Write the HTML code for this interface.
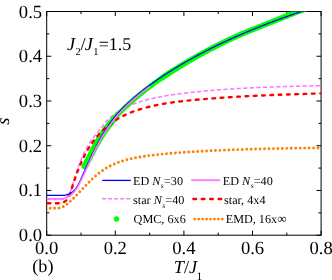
<!DOCTYPE html>
<html><head><meta charset="utf-8"><title>chart</title>
<style>
html,body{margin:0;padding:0;background:#fff;}
body{width:332px;height:280px;overflow:hidden;}
svg{display:block;}
text{font-family:"Liberation Serif",serif;fill:#000;text-rendering:geometricPrecision;}
.tl{font-size:18.6px;}
.lg text{font-size:12.2px;}
.i{font-style:italic;}
.gt{filter:grayscale(1);}
</style></head><body>
<svg width="332" height="280" viewBox="0 0 332 280">
<rect width="332" height="280" fill="#fff"/>
<defs><clipPath id="cp"><rect x="46.7" y="11.5" width="274.40000000000003" height="223.7"/></clipPath></defs>
<g stroke="#000" stroke-width="1" fill="none">
<rect x="46.7" y="11.5" width="274.40000000000003" height="223.7"/>
<line x1="46.70" y1="235.2" x2="46.70" y2="230.6"/><line x1="46.70" y1="11.5" x2="46.70" y2="16.1"/><line x1="81.00" y1="235.2" x2="81.00" y2="232.6"/><line x1="81.00" y1="11.5" x2="81.00" y2="14.1"/><line x1="115.30" y1="235.2" x2="115.30" y2="230.6"/><line x1="115.30" y1="11.5" x2="115.30" y2="16.1"/><line x1="149.60" y1="235.2" x2="149.60" y2="232.6"/><line x1="149.60" y1="11.5" x2="149.60" y2="14.1"/><line x1="183.90" y1="235.2" x2="183.90" y2="230.6"/><line x1="183.90" y1="11.5" x2="183.90" y2="16.1"/><line x1="218.20" y1="235.2" x2="218.20" y2="232.6"/><line x1="218.20" y1="11.5" x2="218.20" y2="14.1"/><line x1="252.50" y1="235.2" x2="252.50" y2="230.6"/><line x1="252.50" y1="11.5" x2="252.50" y2="16.1"/><line x1="286.80" y1="235.2" x2="286.80" y2="232.6"/><line x1="286.80" y1="11.5" x2="286.80" y2="14.1"/><line x1="321.10" y1="235.2" x2="321.10" y2="230.6"/><line x1="321.10" y1="11.5" x2="321.10" y2="16.1"/><line x1="46.7" y1="235.20" x2="51.300000000000004" y2="235.20"/><line x1="321.1" y1="235.20" x2="316.5" y2="235.20"/><line x1="46.7" y1="212.83" x2="49.300000000000004" y2="212.83"/><line x1="321.1" y1="212.83" x2="318.5" y2="212.83"/><line x1="46.7" y1="190.46" x2="51.300000000000004" y2="190.46"/><line x1="321.1" y1="190.46" x2="316.5" y2="190.46"/><line x1="46.7" y1="168.09" x2="49.300000000000004" y2="168.09"/><line x1="321.1" y1="168.09" x2="318.5" y2="168.09"/><line x1="46.7" y1="145.72" x2="51.300000000000004" y2="145.72"/><line x1="321.1" y1="145.72" x2="316.5" y2="145.72"/><line x1="46.7" y1="123.35" x2="49.300000000000004" y2="123.35"/><line x1="321.1" y1="123.35" x2="318.5" y2="123.35"/><line x1="46.7" y1="100.98" x2="51.300000000000004" y2="100.98"/><line x1="321.1" y1="100.98" x2="316.5" y2="100.98"/><line x1="46.7" y1="78.61" x2="49.300000000000004" y2="78.61"/><line x1="321.1" y1="78.61" x2="318.5" y2="78.61"/><line x1="46.7" y1="56.24" x2="51.300000000000004" y2="56.24"/><line x1="321.1" y1="56.24" x2="316.5" y2="56.24"/><line x1="46.7" y1="33.87" x2="49.300000000000004" y2="33.87"/><line x1="321.1" y1="33.87" x2="318.5" y2="33.87"/><line x1="46.7" y1="11.50" x2="51.300000000000004" y2="11.50"/><line x1="321.1" y1="11.50" x2="316.5" y2="11.50"/>
</g>
<g clip-path="url(#cp)" fill="none" stroke-linejoin="round">
<path d="M46.63,208.08C46.99,208.12 48.08,208.26 48.80,208.30C49.53,208.34 50.25,208.30 50.97,208.30C51.69,208.30 52.42,208.30 53.13,208.30C53.84,208.30 54.55,208.30 55.25,208.30C55.94,208.30 56.64,208.35 57.32,208.30C58.00,208.25 58.67,208.13 59.33,207.97C59.98,207.82 60.63,207.62 61.26,207.39C61.90,207.16 62.52,206.90 63.12,206.61C63.73,206.32 64.31,205.99 64.89,205.64C65.46,205.29 66.02,204.91 66.57,204.50C67.13,204.10 67.66,203.67 68.19,203.23C68.72,202.79 69.24,202.33 69.75,201.86C70.27,201.39 70.77,200.90 71.27,200.41C71.78,199.92 72.27,199.43 72.77,198.93C73.26,198.44 73.75,197.94 74.24,197.44C74.73,196.94 75.22,196.45 75.71,195.95C76.19,195.45 76.68,194.95 77.17,194.44C77.65,193.94 78.14,193.43 78.62,192.92C79.11,192.41 79.60,191.89 80.08,191.38C80.57,190.87 81.06,190.35 81.54,189.84C82.03,189.32 82.52,188.81 83.01,188.29C83.50,187.78 83.99,187.26 84.48,186.75C84.97,186.23 85.47,185.72 85.96,185.21C86.46,184.70 86.95,184.19 87.45,183.68C87.95,183.17 88.45,182.67 88.96,182.16C89.46,181.66 89.97,181.16 90.47,180.67C90.98,180.17 91.49,179.68 92.01,179.19C92.52,178.71 93.04,178.22 93.56,177.75C94.08,177.27 94.61,176.80 95.13,176.33C95.66,175.87 96.19,175.41 96.73,174.95C97.26,174.50 97.80,174.05 98.35,173.62C98.89,173.18 99.44,172.75 99.99,172.32C100.54,171.90 101.10,171.48 101.66,171.08C102.23,170.67 102.79,170.28 103.37,169.89C103.94,169.50 104.52,169.12 105.10,168.76C105.68,168.39 106.27,168.03 106.87,167.69C107.46,167.34 108.06,167.00 108.67,166.68C109.27,166.35 109.88,166.03 110.50,165.72C111.11,165.41 111.74,165.12 112.36,164.83C112.98,164.54 113.61,164.26 114.25,163.98C114.88,163.71 115.52,163.45 116.16,163.19C116.80,162.93 117.45,162.69 118.10,162.45C118.75,162.21 119.40,161.98 120.06,161.75C120.72,161.53 121.38,161.31 122.04,161.10C122.70,160.89 123.37,160.69 124.04,160.49C124.71,160.29 125.38,160.10 126.06,159.92C126.73,159.73 127.41,159.56 128.09,159.39C128.77,159.21 129.46,159.05 130.14,158.89C130.83,158.73 131.52,158.57 132.20,158.42C132.89,158.27 133.59,158.13 134.28,157.99C134.97,157.85 135.67,157.72 136.36,157.59C137.06,157.45 137.75,157.33 138.45,157.21C139.15,157.08 139.85,156.97 140.55,156.85C141.25,156.74 141.95,156.63 142.65,156.52C143.35,156.41 144.06,156.31 144.76,156.20C145.46,156.10 146.16,156.00 146.86,155.91C147.57,155.81 148.27,155.72 148.97,155.63C149.67,155.54 150.38,155.45 151.08,155.36C151.78,155.27 152.48,155.19 153.18,155.10C153.88,155.02 154.58,154.94 155.28,154.85C155.98,154.77 156.68,154.70 157.38,154.62C158.08,154.54 158.78,154.47 159.48,154.39C160.18,154.32 160.87,154.25 161.57,154.18C162.27,154.11 162.97,154.04 163.67,153.97C164.36,153.90 165.06,153.83 165.76,153.77C166.46,153.70 167.15,153.64 167.85,153.58C168.55,153.52 169.24,153.46 169.94,153.40C170.64,153.34 171.33,153.28 172.03,153.22C172.73,153.16 173.42,153.11 174.12,153.05C174.82,152.99 175.51,152.94 176.21,152.89C176.90,152.83 177.60,152.78 178.30,152.73C178.99,152.68 179.69,152.63 180.38,152.58C181.08,152.53 181.78,152.48 182.47,152.43C183.17,152.38 183.87,152.34 184.56,152.29C185.26,152.24 185.95,152.20 186.65,152.15C187.35,152.11 188.04,152.06 188.74,152.02C189.44,151.97 190.13,151.93 190.83,151.88C191.53,151.84 192.22,151.80 192.92,151.76C193.62,151.71 194.32,151.67 195.01,151.63C195.71,151.59 196.41,151.55 197.11,151.51C197.80,151.47 198.50,151.43 199.20,151.39C199.90,151.35 200.60,151.31 201.29,151.27C201.99,151.23 202.69,151.19 203.39,151.15C204.09,151.12 204.79,151.08 205.49,151.04C206.18,151.00 206.88,150.97 207.58,150.93C208.28,150.89 208.98,150.86 209.68,150.82C210.38,150.79 211.08,150.75 211.78,150.72C212.48,150.68 213.18,150.65 213.88,150.62C214.57,150.58 215.27,150.55 215.97,150.52C216.67,150.48 217.37,150.45 218.07,150.42C218.77,150.39 219.47,150.36 220.17,150.32C220.87,150.29 221.57,150.26 222.27,150.23C222.97,150.20 223.67,150.17 224.38,150.14C225.08,150.11 225.78,150.08 226.48,150.05C227.18,150.02 227.88,149.99 228.58,149.97C229.28,149.94 229.98,149.91 230.68,149.88C231.38,149.86 232.08,149.83 232.78,149.80C233.48,149.77 234.19,149.75 234.89,149.72C235.59,149.70 236.29,149.67 236.99,149.64C237.69,149.62 238.39,149.59 239.09,149.57C239.79,149.54 240.50,149.52 241.20,149.50C241.90,149.47 242.60,149.45 243.30,149.43C244.00,149.40 244.70,149.38 245.41,149.36C246.11,149.33 246.81,149.31 247.51,149.29C248.21,149.27 248.91,149.25 249.61,149.22C250.32,149.20 251.02,149.18 251.72,149.16C252.42,149.14 253.12,149.12 253.82,149.10C254.53,149.08 255.23,149.06 255.93,149.04C256.63,149.02 257.33,149.00 258.03,148.98C258.74,148.96 259.44,148.94 260.14,148.93C260.84,148.91 261.54,148.89 262.24,148.87C262.95,148.85 263.65,148.84 264.35,148.82C265.05,148.80 265.75,148.78 266.45,148.77C267.16,148.75 267.86,148.73 268.56,148.72C269.26,148.70 269.96,148.69 270.66,148.67C271.36,148.65 272.07,148.64 272.77,148.62C273.47,148.61 274.17,148.59 274.87,148.58C275.57,148.56 276.28,148.55 276.98,148.54C277.68,148.52 278.38,148.51 279.08,148.49C279.78,148.48 280.48,148.47 281.18,148.45C281.89,148.44 282.59,148.43 283.29,148.41C283.99,148.40 284.69,148.39 285.39,148.38C286.09,148.36 286.79,148.35 287.49,148.34C288.19,148.33 288.90,148.32 289.60,148.31C290.30,148.29 291.00,148.28 291.70,148.27C292.40,148.26 293.10,148.25 293.80,148.24C294.50,148.23 295.20,148.22 295.90,148.21C296.60,148.20 297.30,148.19 298.00,148.18C298.70,148.17 299.40,148.16 300.10,148.15C300.80,148.14 301.50,148.13 302.20,148.12C302.90,148.11 303.60,148.10 304.30,148.09C305.00,148.09 305.70,148.08 306.40,148.07C307.10,148.06 307.80,148.05 308.50,148.04C309.20,148.03 309.90,148.03 310.60,148.02C311.30,148.01 311.99,148.00 312.69,148.00C313.39,147.99 314.09,147.98 314.79,147.97C315.49,147.97 316.19,147.96 316.89,147.95C317.58,147.95 318.28,147.94 318.98,147.93C319.68,147.93 320.73,147.92 321.07,147.91" stroke="#ff8000" stroke-width="2.9" stroke-dasharray="0.01 4.45" stroke-dashoffset="-3.5" stroke-linecap="round"/>
<path d="M46.67,199.38C47.05,199.38 48.15,199.40 48.93,199.42C49.71,199.44 50.52,199.49 51.34,199.50C52.16,199.51 53.00,199.50 53.84,199.50C54.67,199.50 55.52,199.50 56.35,199.50C57.19,199.50 58.02,199.50 58.83,199.50C59.63,199.50 60.43,199.57 61.19,199.50C61.95,199.43 62.69,199.32 63.38,199.11C64.07,198.90 64.73,198.60 65.33,198.24C65.93,197.88 66.47,197.45 66.98,196.96C67.48,196.47 67.93,195.90 68.35,195.29C68.77,194.69 69.14,194.02 69.50,193.34C69.85,192.65 70.17,191.91 70.47,191.17C70.78,190.43 71.06,189.66 71.33,188.89C71.61,188.12 71.86,187.34 72.12,186.57C72.38,185.80 72.63,185.03 72.87,184.26C73.12,183.49 73.36,182.72 73.59,181.95C73.83,181.19 74.07,180.42 74.30,179.66C74.53,178.89 74.76,178.13 75.00,177.37C75.23,176.61 75.46,175.85 75.69,175.09C75.93,174.33 76.16,173.57 76.40,172.82C76.64,172.06 76.88,171.30 77.13,170.55C77.38,169.80 77.63,169.05 77.88,168.30C78.14,167.55 78.40,166.80 78.66,166.06C78.93,165.31 79.20,164.57 79.47,163.83C79.75,163.09 80.03,162.35 80.32,161.62C80.60,160.88 80.90,160.15 81.20,159.42C81.49,158.69 81.80,157.97 82.11,157.25C82.42,156.52 82.74,155.81 83.07,155.09C83.39,154.38 83.73,153.66 84.07,152.96C84.41,152.25 84.76,151.55 85.11,150.85C85.47,150.15 85.83,149.45 86.20,148.77C86.57,148.08 86.95,147.39 87.34,146.71C87.73,146.03 88.13,145.35 88.54,144.68C88.95,144.01 89.36,143.35 89.79,142.69C90.21,142.03 90.65,141.37 91.09,140.73C91.54,140.08 91.99,139.44 92.46,138.80C92.92,138.16 93.40,137.53 93.89,136.91C94.37,136.28 94.87,135.66 95.37,135.05C95.87,134.43 96.37,133.82 96.88,133.20C97.39,132.59 97.90,131.98 98.40,131.36C98.91,130.75 99.42,130.14 99.92,129.52C100.42,128.90 100.91,128.27 101.40,127.65C101.89,127.02 102.38,126.39 102.87,125.77C103.36,125.15 103.84,124.52 104.34,123.91C104.84,123.30 105.34,122.69 105.86,122.09C106.37,121.50 106.90,120.91 107.44,120.34C107.98,119.76 108.53,119.20 109.09,118.66C109.65,118.11 110.22,117.57 110.81,117.05C111.39,116.52 111.99,116.01 112.59,115.51C113.20,115.02 113.81,114.53 114.43,114.06C115.06,113.58 115.69,113.12 116.34,112.68C116.98,112.23 117.63,111.79 118.29,111.37C118.95,110.95 119.62,110.54 120.30,110.14C120.97,109.75 121.66,109.36 122.35,108.98C123.04,108.61 123.74,108.25 124.44,107.89C125.15,107.54 125.86,107.20 126.57,106.86C127.29,106.53 128.01,106.21 128.74,105.89C129.46,105.58 130.20,105.28 130.93,104.98C131.67,104.68 132.41,104.40 133.15,104.12C133.89,103.84 134.64,103.57 135.39,103.30C136.14,103.04 136.89,102.78 137.65,102.53C138.40,102.28 139.16,102.04 139.91,101.81C140.67,101.57 141.43,101.34 142.19,101.11C142.95,100.89 143.71,100.67 144.47,100.46C145.24,100.24 146.00,100.04 146.76,99.83C147.53,99.63 148.29,99.43 149.06,99.24C149.83,99.05 150.59,98.86 151.36,98.68C152.13,98.50 152.90,98.32 153.67,98.15C154.44,97.97 155.21,97.81 155.98,97.64C156.75,97.48 157.52,97.32 158.29,97.16C159.07,97.01 159.84,96.85 160.61,96.71C161.39,96.56 162.16,96.42 162.94,96.27C163.71,96.13 164.49,96.00 165.27,95.86C166.04,95.73 166.82,95.60 167.60,95.47C168.37,95.35 169.15,95.22 169.93,95.10C170.71,94.98 171.49,94.87 172.27,94.75C173.05,94.64 173.83,94.52 174.61,94.41C175.39,94.30 176.17,94.20 176.95,94.09C177.73,93.98 178.52,93.88 179.30,93.78C180.08,93.68 180.86,93.58 181.64,93.48C182.43,93.38 183.21,93.29 183.99,93.19C184.78,93.10 185.56,93.01 186.34,92.92C187.13,92.82 187.91,92.73 188.69,92.65C189.48,92.56 190.26,92.47 191.04,92.38C191.83,92.30 192.61,92.21 193.40,92.13C194.18,92.04 194.97,91.96 195.75,91.88C196.53,91.80 197.32,91.72 198.10,91.64C198.89,91.56 199.67,91.48 200.46,91.41C201.25,91.33 202.03,91.25 202.82,91.18C203.60,91.11 204.39,91.03 205.17,90.96C205.96,90.89 206.74,90.82 207.53,90.75C208.32,90.68 209.10,90.61 209.89,90.54C210.68,90.47 211.46,90.41 212.25,90.34C213.04,90.28 213.82,90.21 214.61,90.15C215.40,90.09 216.18,90.02 216.97,89.96C217.76,89.90 218.54,89.84 219.33,89.78C220.12,89.72 220.91,89.66 221.69,89.61C222.48,89.55 223.27,89.49 224.06,89.44C224.84,89.38 225.63,89.33 226.42,89.27C227.21,89.22 228.00,89.17 228.78,89.12C229.57,89.06 230.36,89.01 231.15,88.96C231.94,88.91 232.72,88.86 233.51,88.81C234.30,88.77 235.09,88.72 235.88,88.67C236.67,88.62 237.46,88.58 238.24,88.53C239.03,88.49 239.82,88.44 240.61,88.40C241.40,88.36 242.19,88.31 242.98,88.27C243.77,88.23 244.55,88.19 245.34,88.15C246.13,88.11 246.92,88.07 247.71,88.03C248.50,87.99 249.29,87.95 250.08,87.91C250.87,87.87 251.66,87.84 252.45,87.80C253.23,87.76 254.02,87.73 254.81,87.69C255.60,87.66 256.39,87.62 257.18,87.59C257.97,87.55 258.76,87.52 259.55,87.49C260.34,87.45 261.13,87.42 261.92,87.39C262.71,87.36 263.50,87.33 264.29,87.30C265.08,87.26 265.87,87.23 266.66,87.20C267.44,87.17 268.23,87.14 269.02,87.12C269.81,87.09 270.60,87.06 271.39,87.03C272.18,87.00 272.97,86.98 273.76,86.95C274.55,86.92 275.34,86.89 276.13,86.87C276.92,86.84 277.71,86.82 278.50,86.79C279.29,86.76 280.08,86.74 280.87,86.71C281.66,86.69 282.44,86.67 283.23,86.64C284.02,86.62 284.81,86.59 285.60,86.57C286.39,86.55 287.18,86.52 287.97,86.50C288.76,86.48 289.55,86.45 290.34,86.43C291.13,86.41 291.92,86.39 292.71,86.37C293.49,86.34 294.28,86.32 295.07,86.30C295.86,86.28 296.65,86.26 297.44,86.24C298.23,86.22 299.02,86.19 299.81,86.17C300.59,86.15 301.38,86.13 302.17,86.11C302.96,86.09 303.75,86.07 304.54,86.05C305.33,86.03 306.11,86.01 306.90,85.99C307.69,85.97 308.48,85.95 309.27,85.93C310.05,85.91 310.84,85.89 311.63,85.87C312.42,85.85 313.21,85.83 313.99,85.81C314.78,85.79 315.57,85.77 316.36,85.75C317.14,85.73 317.93,85.71 318.72,85.69C319.51,85.67 320.69,85.64 321.08,85.63" stroke="#ff74ff" stroke-width="1.5" stroke-dasharray="4.3 2.3"/>
<path d="M84.35,166.26C84.54,165.92 85.10,164.89 85.47,164.20C85.84,163.50 86.21,162.81 86.58,162.11C86.95,161.41 87.32,160.71 87.68,160.01C88.05,159.31 88.42,158.60 88.78,157.90C89.15,157.19 89.51,156.48 89.88,155.78C90.24,155.07 90.61,154.36 90.97,153.65C91.34,152.94 91.71,152.23 92.08,151.53C92.45,150.82 92.82,150.11 93.19,149.40C93.56,148.70 93.94,147.99 94.32,147.29C94.69,146.58 95.07,145.88 95.46,145.18C95.84,144.48 96.23,143.78 96.62,143.08C97.01,142.38 97.41,141.69 97.81,141.00C98.21,140.31 98.61,139.62 99.02,138.94C99.43,138.25 99.85,137.57 100.27,136.90C100.69,136.22 101.12,135.55 101.55,134.88C101.98,134.22 102.42,133.56 102.87,132.90C103.31,132.24 103.77,131.59 104.22,130.94C104.68,130.30 105.15,129.65 105.62,129.02C106.09,128.38 106.56,127.74 107.05,127.12C107.53,126.49 108.01,125.86 108.51,125.24C109.00,124.62 109.50,124.01 110.00,123.40C110.50,122.78 111.01,122.18 111.53,121.57C112.04,120.97 112.56,120.37 113.08,119.78C113.60,119.18 114.13,118.59 114.66,118.00C115.19,117.42 116.00,116.54 116.27,116.25" stroke="#00ff00" stroke-width="5.8" stroke-linecap="round"/>
<path d="M111.53,121.57C111.78,121.27 112.56,120.37 113.08,119.78C113.60,119.18 114.13,118.59 114.66,118.00C115.19,117.42 115.73,116.83 116.27,116.25C116.81,115.67 117.35,115.09 117.90,114.52C118.45,113.95 119.00,113.38 119.55,112.81C120.11,112.25 120.67,111.68 121.23,111.12C121.79,110.56 122.36,110.01 122.93,109.45C123.49,108.90 124.07,108.35 124.64,107.80C125.21,107.25 125.79,106.71 126.37,106.17C126.95,105.63 127.53,105.09 128.12,104.55C128.70,104.02 129.29,103.48 129.88,102.95C130.47,102.42 131.06,101.89 131.66,101.37C132.25,100.84 132.85,100.32 133.45,99.80C134.05,99.28 134.65,98.76 135.26,98.25C135.86,97.73 136.47,97.22 137.08,96.71C137.69,96.20 138.30,95.70 138.91,95.19C139.52,94.69 140.14,94.19 140.76,93.69C141.38,93.19 142.00,92.69 142.62,92.20C143.24,91.70 143.86,91.21 144.49,90.72C145.12,90.23 145.75,89.74 146.38,89.26C147.01,88.77 147.64,88.29 148.27,87.81C148.91,87.33 149.54,86.85 150.18,86.38C150.82,85.90 151.46,85.43 152.10,84.96C152.74,84.49 153.38,84.02 154.03,83.55C154.67,83.09 155.32,82.62 155.97,82.16C156.62,81.70 157.27,81.24 157.92,80.78C158.57,80.32 159.22,79.87 159.88,79.41C160.53,78.96 161.19,78.51 161.84,78.06C162.50,77.61 163.16,77.16 163.82,76.71C164.48,76.27 165.14,75.83 165.80,75.38C166.47,74.94 167.13,74.50 167.80,74.06C168.46,73.63 169.13,73.19 169.80,72.76C170.46,72.32 171.47,71.68 171.80,71.46" stroke="#00ff00" stroke-width="5.0" stroke-linecap="round"/>
<path d="M161.84,78.06C162.17,77.83 163.16,77.16 163.82,76.71C164.48,76.27 165.14,75.83 165.80,75.38C166.47,74.94 167.13,74.50 167.80,74.06C168.46,73.63 169.13,73.19 169.80,72.76C170.46,72.32 171.13,71.89 171.80,71.46C172.47,71.03 173.14,70.60 173.82,70.17C174.49,69.75 175.16,69.32 175.84,68.90C176.51,68.48 177.19,68.05 177.86,67.63C178.54,67.21 179.22,66.80 179.89,66.38C180.57,65.96 181.25,65.55 181.93,65.13C182.61,64.72 183.29,64.31 183.97,63.90C184.65,63.49 185.34,63.08 186.02,62.67C186.70,62.27 187.39,61.86 188.07,61.46C188.75,61.06 189.44,60.65 190.13,60.25C190.81,59.85 191.50,59.46 192.19,59.06C192.88,58.66 193.56,58.27 194.25,57.87C194.94,57.48 195.63,57.09 196.33,56.70C197.02,56.31 197.71,55.92 198.40,55.53C199.10,55.14 199.79,54.76 200.48,54.38C201.18,53.99 201.87,53.61 202.57,53.23C203.27,52.85 203.97,52.47 204.66,52.10C205.36,51.72 206.06,51.34 206.76,50.97C207.46,50.60 208.16,50.23 208.86,49.86C209.57,49.49 210.27,49.12 210.97,48.75C211.67,48.39 212.38,48.02 213.08,47.66C213.79,47.29 214.50,46.93 215.20,46.57C215.91,46.21 216.62,45.86 217.33,45.50C218.04,45.15 218.75,44.79 219.46,44.44C220.17,44.09 220.88,43.74 221.59,43.39C222.30,43.04 223.02,42.69 223.73,42.35C224.45,42.00 225.16,41.66 225.88,41.31C226.59,40.97 227.31,40.63 228.03,40.29C228.75,39.96 229.46,39.62 230.18,39.29C230.90,38.95 231.62,38.62 232.35,38.29C233.07,37.96 233.79,37.63 234.51,37.30C235.24,36.97 235.96,36.65 236.69,36.32C237.41,36.00 238.14,35.68 238.87,35.36C239.59,35.04 240.32,34.72 241.05,34.40C241.78,34.09 242.51,33.77 243.24,33.46C243.97,33.14 244.70,32.83 245.44,32.52C246.17,32.22 246.90,31.91 247.64,31.60C248.37,31.30 249.11,30.99 249.84,30.69C250.58,30.39 251.32,30.09 252.05,29.78C252.79,29.48 253.53,29.19 254.27,28.89C255.00,28.59 255.74,28.29 256.48,28.00C257.22,27.70 257.96,27.41 258.70,27.11C259.44,26.82 260.18,26.52 260.92,26.23C261.66,25.94 262.40,25.64 263.14,25.35C263.88,25.06 264.62,24.77 265.37,24.47C266.11,24.18 266.85,23.89 267.59,23.60C268.33,23.30 269.07,23.01 269.81,22.72C270.55,22.43 271.29,22.13 272.03,21.84C272.77,21.55 273.51,21.25 274.24,20.96C274.98,20.67 275.72,20.37 276.46,20.07C277.20,19.78 277.93,19.48 278.67,19.19C279.41,18.89 280.14,18.59 280.88,18.29C281.61,17.99 282.35,17.69 283.08,17.40C283.82,17.10 284.55,16.80 285.29,16.50C286.02,16.20 286.76,15.91 287.50,15.61C288.23,15.32 288.97,15.02 289.70,14.73C290.44,14.44 291.18,14.15 291.92,13.86C292.66,13.57 293.40,13.28 294.14,13.00C294.88,12.72 295.62,12.44 296.36,12.16C297.11,11.88 297.85,11.61 298.60,11.34C299.34,11.07 300.09,10.80 300.84,10.54C301.59,10.27 302.34,10.02 303.09,9.76C303.85,9.51 304.60,9.26 305.36,9.02C306.12,8.77 306.88,8.53 307.64,8.30C308.41,8.07 309.56,7.73 309.94,7.62" stroke="#00ff00" stroke-width="5.6" stroke-linecap="round"/>
<path d="M85.25,166.26C85.44,165.92 86.00,164.89 86.37,164.20C86.74,163.50 87.11,162.81 87.48,162.11C87.85,161.41 88.22,160.71 88.58,160.01C88.95,159.31 89.32,158.60 89.68,157.90C90.05,157.19 90.41,156.48 90.78,155.78C91.14,155.07 91.51,154.36 91.87,153.65C92.24,152.94 92.61,152.23 92.98,151.53C93.35,150.82 93.72,150.11 94.09,149.40C94.46,148.70 94.84,147.99 95.22,147.29C95.59,146.58 95.97,145.88 96.36,145.18C96.74,144.48 97.13,143.78 97.52,143.08C97.91,142.38 98.31,141.69 98.71,141.00C99.11,140.31 99.51,139.62 99.92,138.94C100.33,138.25 100.75,137.57 101.17,136.90C101.59,136.22 102.02,135.55 102.45,134.88C102.88,134.22 103.32,133.56 103.77,132.90C104.21,132.24 104.67,131.59 105.12,130.94C105.58,130.30 106.05,129.65 106.52,129.02C106.99,128.38 107.46,127.74 107.95,127.12C108.43,126.49 108.91,125.86 109.41,125.24C109.90,124.62 110.40,124.01 110.90,123.40C111.40,122.78 112.17,121.88 112.43,121.57" stroke="#00ff00" stroke-width="5.6" stroke-linecap="round"/>
<path d="M46.64,203.14C47.03,203.17 48.15,203.25 48.94,203.28C49.73,203.30 50.54,203.30 51.36,203.30C52.17,203.30 53.01,203.30 53.83,203.30C54.66,203.30 55.49,203.30 56.30,203.30C57.10,203.30 57.91,203.32 58.68,203.30C59.45,203.28 60.21,203.30 60.93,203.17C61.66,203.03 62.36,202.77 63.01,202.49C63.67,202.21 64.30,201.88 64.87,201.49C65.45,201.10 65.98,200.65 66.47,200.15C66.96,199.64 67.40,199.07 67.81,198.47C68.22,197.86 68.59,197.20 68.93,196.52C69.28,195.84 69.58,195.11 69.88,194.37C70.17,193.63 70.44,192.85 70.70,192.08C70.96,191.30 71.20,190.50 71.44,189.71C71.68,188.92 71.91,188.12 72.15,187.34C72.38,186.56 72.62,185.78 72.86,185.01C73.09,184.24 73.33,183.48 73.58,182.72C73.82,181.97 74.06,181.22 74.31,180.48C74.55,179.73 74.80,178.99 75.05,178.26C75.31,177.52 75.56,176.79 75.82,176.06C76.08,175.33 76.34,174.61 76.61,173.88C76.87,173.15 77.14,172.43 77.42,171.71C77.69,170.99 77.97,170.26 78.25,169.54C78.54,168.82 78.82,168.10 79.12,167.38C79.41,166.66 79.71,165.94 80.01,165.22C80.32,164.50 80.62,163.79 80.94,163.08C81.25,162.36 81.57,161.65 81.90,160.94C82.22,160.23 82.55,159.52 82.89,158.82C83.23,158.12 83.57,157.41 83.92,156.72C84.27,156.02 84.63,155.32 84.99,154.63C85.35,153.94 85.72,153.25 86.10,152.56C86.47,151.88 86.85,151.20 87.24,150.52C87.63,149.84 88.03,149.17 88.43,148.50C88.84,147.83 89.25,147.17 89.67,146.51C90.09,145.85 90.51,145.20 90.95,144.55C91.38,143.90 91.83,143.25 92.28,142.62C92.73,141.98 93.18,141.35 93.65,140.72C94.12,140.09 94.59,139.47 95.08,138.86C95.56,138.25 96.05,137.64 96.56,137.04C97.06,136.44 97.57,135.84 98.09,135.25C98.60,134.67 99.13,134.09 99.67,133.51C100.20,132.94 100.74,132.38 101.30,131.82C101.85,131.26 102.41,130.71 102.97,130.17C103.54,129.62 104.11,129.09 104.69,128.56C105.28,128.03 105.86,127.52 106.46,127.00C107.06,126.49 107.66,125.99 108.27,125.50C108.88,125.01 109.49,124.52 110.12,124.04C110.74,123.57 111.37,123.10 112.00,122.64C112.64,122.19 113.28,121.74 113.93,121.30C114.58,120.86 115.23,120.43 115.89,120.01C116.55,119.59 117.21,119.18 117.88,118.78C118.55,118.38 119.23,117.99 119.91,117.61C120.59,117.23 121.28,116.86 121.97,116.50C122.66,116.14 123.35,115.79 124.05,115.45C124.75,115.10 125.46,114.77 126.17,114.45C126.88,114.13 127.59,113.81 128.31,113.50C129.02,113.20 129.74,112.90 130.47,112.61C131.19,112.32 131.92,112.04 132.65,111.76C133.38,111.49 134.11,111.22 134.85,110.96C135.59,110.70 136.32,110.45 137.07,110.21C137.81,109.96 138.55,109.72 139.30,109.49C140.05,109.26 140.80,109.03 141.55,108.81C142.30,108.59 143.05,108.38 143.80,108.17C144.56,107.96 145.31,107.75 146.07,107.56C146.83,107.36 147.58,107.17 148.34,106.98C149.10,106.79 149.86,106.60 150.62,106.43C151.38,106.25 152.15,106.07 152.91,105.90C153.67,105.73 154.43,105.57 155.20,105.41C155.96,105.24 156.73,105.09 157.49,104.93C158.26,104.78 159.02,104.63 159.79,104.49C160.56,104.34 161.33,104.20 162.10,104.06C162.86,103.92 163.63,103.79 164.40,103.66C165.17,103.53 165.94,103.40 166.72,103.28C167.49,103.15 168.26,103.03 169.03,102.91C169.80,102.79 170.58,102.68 171.35,102.57C172.12,102.46 172.90,102.35 173.67,102.24C174.44,102.14 175.22,102.03 175.99,101.93C176.77,101.83 177.55,101.73 178.32,101.64C179.10,101.54 179.87,101.45 180.65,101.36C181.43,101.27 182.20,101.18 182.98,101.09C183.76,101.00 184.54,100.92 185.31,100.83C186.09,100.75 186.87,100.67 187.65,100.59C188.43,100.51 189.21,100.43 189.98,100.36C190.76,100.28 191.54,100.20 192.32,100.13C193.10,100.06 193.88,99.98 194.66,99.91C195.44,99.84 196.22,99.77 197.00,99.70C197.78,99.63 198.56,99.56 199.33,99.49C200.11,99.42 200.89,99.36 201.67,99.29C202.45,99.22 203.23,99.16 204.01,99.09C204.79,99.03 205.57,98.97 206.35,98.90C207.13,98.84 207.91,98.78 208.69,98.72C209.47,98.65 210.25,98.59 211.03,98.53C211.81,98.47 212.59,98.41 213.37,98.35C214.15,98.30 214.93,98.24 215.71,98.18C216.48,98.12 217.26,98.07 218.04,98.01C218.82,97.95 219.60,97.90 220.38,97.84C221.16,97.79 221.94,97.74 222.72,97.68C223.50,97.63 224.28,97.58 225.06,97.53C225.84,97.47 226.62,97.42 227.40,97.37C228.18,97.32 228.96,97.27 229.74,97.22C230.52,97.17 231.30,97.12 232.08,97.08C232.86,97.03 233.64,96.98 234.42,96.93C235.20,96.89 235.98,96.84 236.76,96.79C237.54,96.75 238.32,96.70 239.10,96.66C239.88,96.61 240.66,96.57 241.44,96.53C242.22,96.48 243.00,96.44 243.78,96.40C244.56,96.36 245.34,96.31 246.12,96.27C246.90,96.23 247.68,96.19 248.46,96.15C249.25,96.11 250.03,96.07 250.81,96.03C251.59,95.99 252.37,95.95 253.15,95.91C253.93,95.88 254.71,95.84 255.49,95.80C256.27,95.76 257.05,95.73 257.83,95.69C258.61,95.65 259.39,95.62 260.17,95.58C260.95,95.54 261.73,95.51 262.51,95.47C263.29,95.44 264.07,95.41 264.85,95.37C265.64,95.34 266.42,95.30 267.20,95.27C267.98,95.24 268.76,95.20 269.54,95.17C270.32,95.14 271.10,95.11 271.88,95.07C272.66,95.04 273.44,95.01 274.22,94.98C275.00,94.95 275.79,94.92 276.57,94.89C277.35,94.86 278.13,94.83 278.91,94.80C279.69,94.77 280.47,94.74 281.25,94.71C282.03,94.68 282.81,94.65 283.59,94.62C284.38,94.59 285.16,94.56 285.94,94.53C286.72,94.51 287.50,94.48 288.28,94.45C289.06,94.42 289.84,94.40 290.62,94.37C291.41,94.34 292.19,94.31 292.97,94.29C293.75,94.26 294.53,94.23 295.31,94.21C296.09,94.18 296.87,94.15 297.66,94.13C298.44,94.10 299.22,94.08 300.00,94.05C300.78,94.03 301.56,94.00 302.34,93.97C303.13,93.95 303.91,93.92 304.69,93.90C305.47,93.87 306.25,93.85 307.03,93.82C307.82,93.80 308.60,93.77 309.38,93.75C310.16,93.73 310.94,93.70 311.72,93.68C312.51,93.65 313.29,93.63 314.07,93.60C314.85,93.58 315.63,93.56 316.41,93.53C317.20,93.51 317.98,93.48 318.76,93.46C319.54,93.44 320.71,93.40 321.10,93.39" stroke="#ff0000" stroke-width="2.4" stroke-dasharray="2.7 5.6" stroke-dashoffset="-1.0" stroke-linecap="round"/>
<path d="M46.74,195.33C47.00,195.32 47.79,195.29 48.33,195.28C48.86,195.28 49.41,195.29 49.97,195.30C50.53,195.31 51.09,195.35 51.66,195.37C52.23,195.38 52.81,195.39 53.39,195.40C53.98,195.41 54.56,195.40 55.15,195.40C55.74,195.40 56.33,195.40 56.92,195.40C57.51,195.40 58.11,195.40 58.70,195.40C59.29,195.40 59.88,195.40 60.46,195.40C61.05,195.40 61.64,195.41 62.21,195.40C62.79,195.39 63.36,195.41 63.93,195.35C64.50,195.28 65.06,195.15 65.61,195.03C66.15,194.90 66.70,194.76 67.23,194.59C67.76,194.43 68.28,194.24 68.78,194.04C69.29,193.83 69.78,193.61 70.26,193.36C70.74,193.11 71.21,192.84 71.65,192.55C72.10,192.25 72.53,191.94 72.95,191.60C73.36,191.26 73.75,190.89 74.13,190.51C74.51,190.13 74.87,189.73 75.22,189.31C75.57,188.89 75.90,188.45 76.23,187.99C76.55,187.54 76.86,187.07 77.16,186.59C77.45,186.11 77.74,185.62 78.02,185.12C78.30,184.61 78.57,184.10 78.83,183.58C79.09,183.06 79.34,182.54 79.59,182.00C79.84,181.47 80.08,180.94 80.32,180.40C80.56,179.86 80.80,179.32 81.03,178.78C81.27,178.25 81.50,177.71 81.73,177.17C81.96,176.64 82.19,176.11 82.42,175.58C82.65,175.05 82.88,174.53 83.11,174.01C83.35,173.48 83.58,172.96 83.81,172.45C84.04,171.93 84.27,171.41 84.50,170.90C84.73,170.38 84.96,169.87 85.19,169.36C85.42,168.85 85.66,168.34 85.89,167.83C86.12,167.32 86.35,166.81 86.59,166.30C86.82,165.79 87.05,165.28 87.29,164.77C87.52,164.26 87.76,163.75 87.99,163.24C88.23,162.73 88.46,162.22 88.70,161.71C88.94,161.20 89.18,160.69 89.41,160.18C89.65,159.66 89.89,159.15 90.13,158.64C90.37,158.13 90.61,157.62 90.86,157.11C91.10,156.59 91.34,156.08 91.59,155.57C91.83,155.06 92.08,154.55 92.32,154.04C92.57,153.53 92.82,153.02 93.07,152.51C93.32,152.00 93.57,151.49 93.82,150.98C94.07,150.47 94.32,149.96 94.58,149.45C94.83,148.94 95.09,148.43 95.35,147.92C95.60,147.42 95.86,146.91 96.12,146.40C96.38,145.90 96.65,145.39 96.91,144.89C97.17,144.38 97.44,143.88 97.71,143.37C97.97,142.87 98.24,142.37 98.51,141.87C98.78,141.37 99.06,140.87 99.33,140.37C99.60,139.87 99.88,139.37 100.16,138.87C100.44,138.37 100.72,137.88 101.00,137.38C101.28,136.89 101.57,136.40 101.85,135.90C102.14,135.41 102.43,134.92 102.72,134.43C103.01,133.94 103.30,133.46 103.60,132.97C103.89,132.48 104.19,132.00 104.49,131.52C104.79,131.03 105.09,130.55 105.40,130.07C105.70,129.59 106.01,129.11 106.32,128.64C106.63,128.16 106.94,127.69 107.26,127.22C107.57,126.74 107.89,126.27 108.21,125.80C108.53,125.34 108.85,124.87 109.18,124.41C109.51,123.94 109.83,123.48 110.17,123.02C110.50,122.56 110.83,122.10 111.17,121.65C111.51,121.19 111.85,120.74 112.19,120.29C112.53,119.83 112.88,119.39 113.23,118.94C113.58,118.49 113.93,118.05 114.29,117.61C114.64,117.17 115.00,116.73 115.36,116.29C115.73,115.86 116.09,115.42 116.46,114.99C116.83,114.56 117.20,114.13 117.57,113.71C117.95,113.28 118.32,112.86 118.70,112.44C119.08,112.02 119.47,111.60 119.85,111.18C120.24,110.77 120.62,110.35 121.01,109.94C121.40,109.53 121.80,109.12 122.19,108.71C122.59,108.30 122.99,107.90 123.39,107.50C123.79,107.09 124.19,106.69 124.59,106.29C125.00,105.90 125.40,105.50 125.81,105.10C126.22,104.71 126.63,104.32 127.04,103.93C127.46,103.54 127.87,103.15 128.29,102.76C128.70,102.37 129.12,101.99 129.54,101.61C129.96,101.22 130.38,100.84 130.81,100.46C131.23,100.08 131.65,99.71 132.08,99.33C132.51,98.95 132.93,98.58 133.36,98.21C133.79,97.84 134.22,97.47 134.65,97.10C135.09,96.73 135.52,96.36 135.95,95.99C136.39,95.63 136.82,95.27 137.26,94.90C137.70,94.54 138.14,94.18 138.58,93.82C139.02,93.46 139.46,93.10 139.90,92.75C140.34,92.39 140.79,92.04 141.23,91.69C141.68,91.33 142.12,90.98 142.57,90.63C143.02,90.28 143.47,89.93 143.91,89.59C144.36,89.24 144.81,88.89 145.27,88.55C145.72,88.21 146.17,87.86 146.63,87.52C147.08,87.18 147.53,86.84 147.99,86.50C148.45,86.16 148.90,85.83 149.36,85.49C149.82,85.15 150.28,84.82 150.74,84.49C151.20,84.15 151.66,83.82 152.12,83.49C152.58,83.16 153.04,82.83 153.51,82.50C153.97,82.17 154.43,81.84 154.90,81.52C155.36,81.19 155.83,80.87 156.30,80.54C156.76,80.22 157.23,79.90 157.70,79.58C158.17,79.25 158.63,78.93 159.10,78.62C159.57,78.30 160.04,77.98 160.51,77.66C160.99,77.34 161.46,77.03 161.93,76.71C162.40,76.40 162.87,76.08 163.35,75.77C163.82,75.46 164.29,75.14 164.77,74.83C165.24,74.52 165.72,74.21 166.19,73.90C166.67,73.59 167.15,73.29 167.62,72.98C168.10,72.67 168.58,72.37 169.06,72.06C169.53,71.76 170.01,71.45 170.49,71.15C170.97,70.85 171.45,70.54 171.93,70.24C172.41,69.94 172.90,69.64 173.38,69.34C173.86,69.04 174.34,68.74 174.82,68.45C175.31,68.15 175.79,67.85 176.28,67.56C176.76,67.26 177.24,66.97 177.73,66.68C178.21,66.38 178.70,66.09 179.19,65.80C179.67,65.51 180.16,65.22 180.65,64.93C181.14,64.64 181.62,64.35 182.11,64.06C182.60,63.77 183.09,63.49 183.58,63.20C184.07,62.92 184.56,62.63 185.05,62.35C185.54,62.06 186.03,61.78 186.53,61.50C187.02,61.22 187.51,60.94 188.00,60.66C188.50,60.38 188.99,60.10 189.48,59.82C189.98,59.54 190.47,59.26 190.97,58.99C191.46,58.71 191.96,58.43 192.46,58.16C192.95,57.88 193.45,57.61 193.95,57.34C194.44,57.06 194.94,56.79 195.44,56.52C195.94,56.25 196.43,55.98 196.93,55.71C197.43,55.44 197.93,55.17 198.43,54.90C198.93,54.64 199.43,54.37 199.93,54.10C200.44,53.84 200.94,53.57 201.44,53.31C201.94,53.04 202.44,52.78 202.95,52.52C203.45,52.25 203.95,51.99 204.46,51.73C204.96,51.47 205.46,51.21 205.97,50.95C206.47,50.69 206.98,50.43 207.49,50.18C207.99,49.92 208.50,49.66 209.00,49.41C209.51,49.15 210.02,48.90 210.52,48.64C211.03,48.39 211.54,48.13 212.05,47.88C212.56,47.63 213.06,47.38 213.57,47.13C214.08,46.87 214.59,46.62 215.10,46.37C215.61,46.12 216.12,45.88 216.63,45.63C217.14,45.38 217.65,45.13 218.17,44.89C218.68,44.64 219.19,44.39 219.70,44.15C220.21,43.91 220.73,43.66 221.24,43.42C221.75,43.17 222.27,42.93 222.78,42.69C223.29,42.45 223.81,42.21 224.32,41.97C224.84,41.73 225.35,41.49 225.87,41.25C226.38,41.01 226.90,40.77 227.41,40.54C227.93,40.30 228.45,40.06 228.96,39.83C229.48,39.59 230.00,39.35 230.52,39.12C231.03,38.89 231.55,38.65 232.07,38.42C232.59,38.19 233.11,37.95 233.62,37.72C234.14,37.49 234.66,37.26 235.18,37.03C235.70,36.80 236.22,36.57 236.74,36.34C237.26,36.11 237.78,35.89 238.30,35.66C238.82,35.43 239.34,35.21 239.87,34.98C240.39,34.75 240.91,34.53 241.43,34.30C241.95,34.08 242.48,33.86 243.00,33.63C243.52,33.41 244.04,33.19 244.57,32.97C245.09,32.74 245.61,32.52 246.14,32.30C246.66,32.08 247.18,31.86 247.71,31.64C248.23,31.42 248.76,31.21 249.28,30.99C249.81,30.77 250.33,30.55 250.86,30.34C251.38,30.12 251.91,29.90 252.43,29.69C252.96,29.47 253.49,29.26 254.01,29.04C254.54,28.83 255.07,28.62 255.59,28.40C256.12,28.19 256.65,27.98 257.17,27.77C257.70,27.56 258.23,27.34 258.76,27.13C259.28,26.92 259.81,26.71 260.34,26.50C260.87,26.30 261.40,26.09 261.93,25.88C262.46,25.67 262.98,25.46 263.51,25.26C264.04,25.05 264.57,24.84 265.10,24.64C265.63,24.43 266.16,24.23 266.69,24.02C267.22,23.82 267.75,23.62 268.28,23.41C268.81,23.21 269.34,23.01 269.87,22.80C270.40,22.60 270.93,22.40 271.47,22.20C272.00,22.00 272.53,21.80 273.06,21.60C273.59,21.40 274.12,21.20 274.65,21.00C275.19,20.80 275.72,20.60 276.25,20.40C276.78,20.21 277.31,20.01 277.85,19.81C278.38,19.62 278.91,19.42 279.44,19.22C279.98,19.03 280.51,18.83 281.04,18.64C281.58,18.44 282.11,18.25 282.64,18.05C283.18,17.86 283.71,17.67 284.24,17.48C284.78,17.28 285.31,17.09 285.84,16.90C286.38,16.71 286.91,16.52 287.44,16.33C287.98,16.13 288.51,15.94 289.05,15.75C289.58,15.56 290.12,15.38 290.65,15.19C291.18,15.00 291.72,14.81 292.25,14.62C292.79,14.43 293.32,14.25 293.86,14.06C294.39,13.87 294.93,13.69 295.46,13.50C296.00,13.31 296.53,13.13 297.07,12.94C297.60,12.76 298.14,12.57 298.67,12.39C299.21,12.21 299.74,12.02 300.28,11.84C300.81,11.65 301.35,11.47 301.89,11.29C302.42,11.11 302.96,10.92 303.49,10.74C304.03,10.56 304.56,10.38 305.10,10.20C305.64,10.02 306.17,9.84 306.71,9.66C307.24,9.48 307.78,9.30 308.31,9.12C308.85,8.94 309.65,8.67 309.92,8.58" stroke="#0000ff" stroke-width="1.2"/>
<path d="M46.87,198.84C47.07,198.82 47.66,198.77 48.05,198.75C48.44,198.73 48.83,198.73 49.21,198.73C49.60,198.73 49.98,198.74 50.36,198.75C50.74,198.77 51.11,198.79 51.49,198.81C51.87,198.83 52.24,198.87 52.62,198.89C52.99,198.90 53.37,198.90 53.75,198.90C54.12,198.90 54.50,198.90 54.88,198.90C55.26,198.90 55.64,198.90 56.03,198.90C56.41,198.90 56.80,198.90 57.19,198.90C57.58,198.90 57.98,198.90 58.37,198.90C58.77,198.90 59.17,198.91 59.57,198.90C59.97,198.89 60.37,198.90 60.77,198.86C61.16,198.82 61.56,198.75 61.96,198.68C62.36,198.61 62.75,198.53 63.15,198.45C63.54,198.36 63.93,198.26 64.32,198.16C64.70,198.05 65.08,197.94 65.46,197.82C65.83,197.69 66.21,197.56 66.57,197.42C66.93,197.27 67.29,197.12 67.64,196.96C67.99,196.80 68.33,196.62 68.66,196.44C69.00,196.26 69.32,196.07 69.64,195.87C69.96,195.67 70.26,195.46 70.57,195.24C70.87,195.02 71.16,194.80 71.45,194.56C71.74,194.33 72.02,194.08 72.29,193.83C72.57,193.58 72.83,193.32 73.09,193.06C73.35,192.79 73.61,192.52 73.86,192.24C74.11,191.97 74.35,191.68 74.59,191.39C74.83,191.10 75.06,190.80 75.29,190.50C75.52,190.20 75.74,189.89 75.96,189.58C76.18,189.27 76.39,188.95 76.60,188.63C76.81,188.31 77.02,187.99 77.22,187.66C77.42,187.33 77.62,187.00 77.81,186.66C78.01,186.32 78.20,185.98 78.39,185.64C78.58,185.30 78.76,184.96 78.95,184.61C79.13,184.27 79.31,183.92 79.49,183.57C79.67,183.22 79.85,182.87 80.03,182.51C80.20,182.16 80.37,181.81 80.55,181.45C80.72,181.10 80.89,180.75 81.06,180.39C81.23,180.04 81.40,179.68 81.57,179.33C81.74,178.97 81.91,178.62 82.08,178.26C82.24,177.91 82.41,177.56 82.58,177.20C82.74,176.85 82.91,176.49 83.07,176.14C83.24,175.78 83.40,175.43 83.56,175.07C83.73,174.72 83.89,174.36 84.05,174.01C84.21,173.66 84.38,173.30 84.54,172.95C84.70,172.59 84.86,172.24 85.02,171.88C85.18,171.53 85.34,171.17 85.50,170.82C85.66,170.47 85.82,170.11 85.98,169.76C86.13,169.40 86.29,169.05 86.45,168.69C86.61,168.34 86.77,167.99 86.93,167.63C87.08,167.28 87.24,166.93 87.40,166.57C87.56,166.22 87.72,165.86 87.87,165.51C88.03,165.16 88.19,164.81 88.35,164.45C88.50,164.10 88.66,163.75 88.82,163.39C88.98,163.04 89.13,162.69 89.29,162.34C89.45,161.98 89.61,161.63 89.77,161.28C89.93,160.93 90.08,160.58 90.24,160.23C90.40,159.87 90.56,159.52 90.72,159.17C90.88,158.82 91.04,158.47 91.20,158.12C91.36,157.77 91.52,157.42 91.68,157.07C91.84,156.72 92.00,156.37 92.17,156.02C92.33,155.67 92.49,155.32 92.65,154.98C92.82,154.63 92.98,154.28 93.14,153.93C93.31,153.58 93.47,153.23 93.64,152.89C93.81,152.54 93.97,152.19 94.14,151.85C94.31,151.50 94.47,151.15 94.64,150.81C94.81,150.46 94.98,150.11 95.15,149.77C95.32,149.42 95.49,149.08 95.67,148.74C95.84,148.39 96.01,148.05 96.19,147.70C96.36,147.36 96.54,147.02 96.71,146.67C96.89,146.33 97.07,145.99 97.25,145.65C97.42,145.30 97.60,144.96 97.79,144.62C97.97,144.28 98.15,143.94 98.33,143.60C98.52,143.26 98.70,142.92 98.89,142.58C99.07,142.24 99.26,141.90 99.45,141.57C99.63,141.23 99.82,140.89 100.01,140.55C100.20,140.22 100.40,139.88 100.59,139.55C100.78,139.21 100.98,138.87 101.17,138.54C101.37,138.21 101.56,137.87 101.76,137.54C101.96,137.20 102.16,136.87 102.36,136.54C102.56,136.21 102.76,135.88 102.96,135.55C103.16,135.21 103.36,134.88 103.57,134.55C103.77,134.22 103.98,133.90 104.19,133.57C104.39,133.24 104.60,132.91 104.81,132.59C105.02,132.26 105.23,131.93 105.44,131.61C105.65,131.28 105.86,130.96 106.08,130.63C106.29,130.31 106.51,129.99 106.72,129.66C106.94,129.34 107.16,129.02 107.38,128.70C107.59,128.38 107.81,128.06 108.03,127.74C108.26,127.42 108.48,127.10 108.70,126.78C108.92,126.47 109.15,126.15 109.37,125.84C109.60,125.52 109.83,125.20 110.05,124.89C110.28,124.58 110.51,124.26 110.74,123.95C110.97,123.64 111.20,123.33 111.44,123.02C111.67,122.71 111.90,122.40 112.14,122.09C112.37,121.78 112.61,121.47 112.85,121.17C113.08,120.86 113.32,120.55 113.56,120.25C113.80,119.94 114.04,119.64 114.29,119.34C114.53,119.03 114.77,118.73 115.02,118.43C115.26,118.13 115.51,117.83 115.75,117.53C116.00,117.23 116.25,116.94 116.50,116.64C116.75,116.34 117.00,116.05 117.25,115.75C117.50,115.46 117.75,115.17 118.01,114.87C118.26,114.58 118.51,114.29 118.77,114.00C119.03,113.71 119.28,113.42 119.54,113.13C119.80,112.85 120.06,112.56 120.32,112.27C120.58,111.99 120.85,111.70 121.11,111.42C121.37,111.14 121.64,110.86 121.90,110.58C122.17,110.29 122.43,110.01 122.70,109.74C122.97,109.46 123.24,109.18 123.51,108.90C123.78,108.63 124.05,108.35 124.32,108.08C124.60,107.80 124.87,107.53 125.14,107.26C125.42,106.99 125.69,106.72 125.97,106.45C126.25,106.18 126.52,105.91 126.80,105.64C127.08,105.37 127.36,105.10 127.64,104.84C127.92,104.57 128.20,104.31 128.48,104.04C128.76,103.78 129.05,103.51 129.33,103.25C129.61,102.99 129.90,102.73 130.19,102.47C130.47,102.21 130.76,101.95 131.04,101.69C131.33,101.43 131.62,101.17 131.91,100.92C132.20,100.66 132.49,100.40 132.78,100.15C133.07,99.89 133.36,99.64 133.65,99.38C133.94,99.13 134.24,98.88 134.53,98.63C134.82,98.37 135.12,98.12 135.41,97.87C135.71,97.62 136.00,97.37 136.30,97.12C136.59,96.87 136.89,96.62 137.19,96.38C137.49,96.13 137.78,95.88 138.08,95.64C138.38,95.39 138.68,95.14 138.98,94.90C139.28,94.65 139.58,94.41 139.88,94.17C140.18,93.92 140.49,93.68 140.79,93.44C141.09,93.19 141.39,92.95 141.69,92.71C142.00,92.47 142.30,92.23 142.61,91.99C142.91,91.75 143.21,91.51 143.52,91.27C143.82,91.03 144.13,90.79 144.43,90.55C144.74,90.31 145.05,90.08 145.35,89.84C145.66,89.60 145.97,89.37 146.27,89.13C146.58,88.89 146.89,88.66 147.20,88.42C147.50,88.19 147.81,87.95 148.12,87.72C148.43,87.48 148.74,87.25 149.05,87.02C149.36,86.78 149.82,86.43 149.97,86.32" stroke="#ff74ff" stroke-width="1.6"/>
</g>
<g class="tl gt"><text x="46.70" y="253.5" text-anchor="middle">0.0</text><text x="115.30" y="253.5" text-anchor="middle">0.2</text><text x="183.90" y="253.5" text-anchor="middle">0.4</text><text x="252.50" y="253.5" text-anchor="middle">0.6</text><text x="321.10" y="253.5" text-anchor="middle">0.8</text><text x="42.1" y="241.20" text-anchor="end">0.0</text><text x="42.1" y="196.46" text-anchor="end">0.1</text><text x="42.1" y="151.72" text-anchor="end">0.2</text><text x="42.1" y="106.98" text-anchor="end">0.3</text><text x="42.1" y="62.24" text-anchor="end">0.4</text><text x="42.1" y="17.50" text-anchor="end">0.5</text>
<text x="32.3" y="272.4" style="font-size:18.2px">(b)</text>
<text x="173.8" y="273" style="font-size:18.3px"><tspan class="i">T</tspan>/<tspan class="i">J</tspan><tspan dy="6.6" dx="-0.6" style="font-size:11.5px">1</tspan></text>
<text transform="translate(9.4,124.8) rotate(-90)" class="i">s</text>
<g style="font-size:18.3px"><text x="67" y="50" class="i">J</text><text x="75.5" y="55" style="font-size:10.5px">2</text><text x="80.6" y="50">/</text><text x="84.8" y="50" class="i">J</text><text x="93.2" y="55" style="font-size:10.5px">1</text><text x="98.7" y="50" style="font-size:18px">=1.5</text></g>
</g>
<g>
<line x1="102.2" y1="180.4" x2="130.8" y2="180.4" stroke="#0000ff" stroke-width="1.3"/>
<line x1="102.1" y1="198.8" x2="130.2" y2="198.8" stroke="#ff74ff" stroke-width="1.6" stroke-dasharray="3.9 2.15"/>
<circle cx="116.5" cy="219" r="2.75" fill="#00ff00"/>
<line x1="191.2" y1="180.2" x2="220.2" y2="180.2" stroke="#ff74ff" stroke-width="1.8"/>
<line x1="192.2" y1="199" x2="222.3" y2="199" stroke="#ff0000" stroke-width="2.4" stroke-dasharray="2.6 5.8" stroke-dashoffset="-1.2" stroke-linecap="round"/>
<line x1="194.8" y1="219.1" x2="223" y2="219.1" stroke="#ff8000" stroke-width="2.9" stroke-dasharray="0.01 3.92" stroke-linecap="round"/>
</g>
<g class="lg gt">
<text x="133" y="184.5">ED <tspan class="i">N</tspan><tspan dy="3.7" dx="0.4" class="i" style="font-size:7.4px">s</tspan><tspan dy="-3.7" dx="0.2">=30</tspan></text>
<text x="133" y="204">star <tspan class="i">N</tspan><tspan dy="3.7" dx="0.4" class="i" style="font-size:7.4px">s</tspan><tspan dy="-3.7" dx="0.2">=40</tspan></text>
<text x="133.6" y="223.2">QMC, 6x6</text>
<text x="222.8" y="184.5">ED <tspan class="i">N</tspan><tspan dy="3.7" dx="0.4" class="i" style="font-size:7.4px">s</tspan><tspan dy="-3.7" dx="0.2">=40</tspan></text>
<text x="224" y="204">star, 4x4</text>
<text x="225.7" y="223.2">EMD, 16x<tspan style="font-size:13.2px">∞</tspan></text>
</g>
</svg>
</body></html>
